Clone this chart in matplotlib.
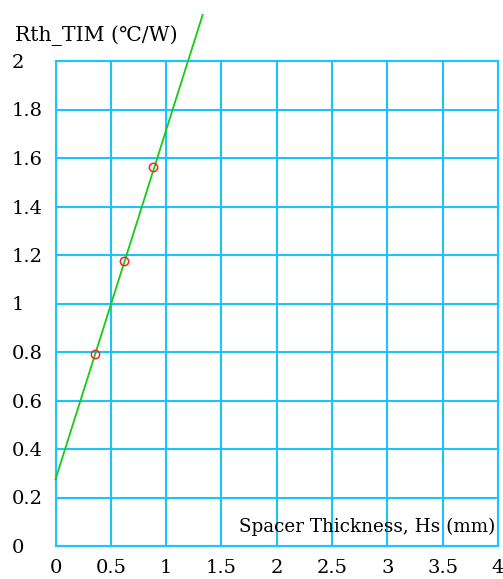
import matplotlib
matplotlib.use("Agg")
import matplotlib.pyplot as plt

# Data
fit_x = [0.0, 1.33]
fit_y = [0.275, 2.19]
meas_x = [0.357, 0.622, 0.883]
meas_y = [0.792, 1.175, 1.564]
xticks = [0, 0.5, 1, 1.5, 2, 2.5, 3, 3.5, 4]
xtick_labels = ["0", "0.5", "1", "1.5", "2", "2.5", "3", "3.5", "4"]
yticks = [0, 0.2, 0.4, 0.6, 0.8, 1.0, 1.2, 1.4, 1.6, 1.8, 2.0]
ytick_labels = ["0", "0.2", "0.4", "0.6", "0.8", "1", "1.2", "1.4", "1.6", "1.8", "2"]

FONT = ["DejaVu Serif", "DejaVu Sans"]
FS = 14
grid_c = "#1CC4FF"

W, H = 503, 579
fig = plt.figure(figsize=(W / 100, H / 100), dpi=100)
ax = fig.add_axes([55.5 / W, (H - 546) / H, (498 - 55.5) / W, (546 - 61) / H])
ax.set_xlim(0, 4)
ax.set_ylim(0, 2)
ax.set_xticks(xticks)
ax.set_yticks(yticks)
ax.set_xticklabels([])
ax.set_yticklabels([])
ax.tick_params(length=0)
ax.grid(True, color=grid_c, linewidth=1.5)
ax.set_axisbelow(True)
for s in ax.spines.values():
    s.set_color(grid_c)
    s.set_linewidth(1.5)

ax.plot(fit_x, fit_y, color="#14CC14", linewidth=1.3, clip_on=False, zorder=3)
ax.plot(meas_x, meas_y, linestyle="none", marker="o", markersize=6,
        markerfacecolor="none", markeredgecolor="#FF2020", markeredgewidth=1.1, zorder=4)

# tick labels
for v, lab in zip(xticks, xtick_labels):
    ax.annotate(lab, xy=(v, 0), xycoords="data", xytext=(0, -22), textcoords="offset pixels",
                ha="center", va="center", fontsize=FS, family=FONT, annotation_clip=False)
for v, lab in zip(yticks, ytick_labels):
    ax.annotate(lab, xy=(0, v), xycoords=("axes fraction", "data"), xytext=(12 - 55.5, -2),
                textcoords="offset pixels", ha="left", va="center", fontsize=FS,
                family=FONT, annotation_clip=False)

fig.text(15 / W, 1 - 36 / H, "Rth_TIM (℃/W)", ha="left", va="center", fontsize=14.7, family=FONT)
ax.text(0.995, (546 - 527) / (546 - 61), "Spacer Thickness, Hs (mm)", transform=ax.transAxes,
        ha="right", va="center", fontsize=13.2, family=FONT)

fig.savefig("out.png", dpi=100)
